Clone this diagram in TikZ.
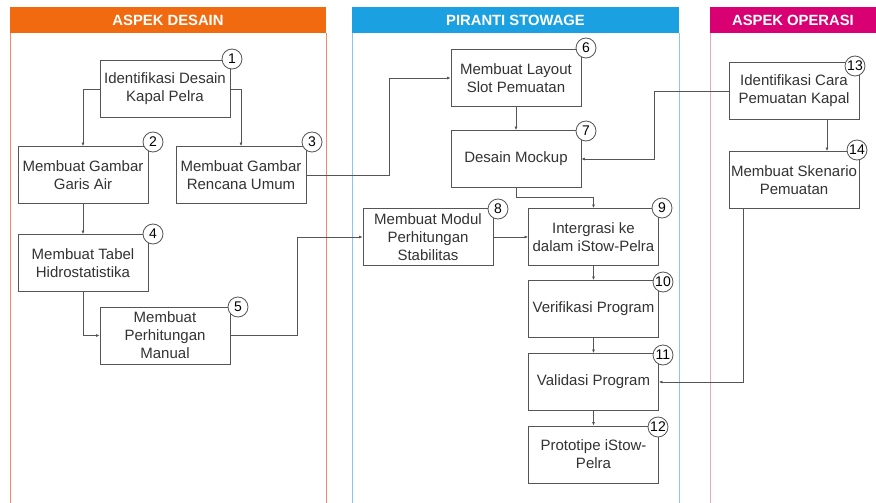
\documentclass[tikz,border=0pt]{standalone}
\usepackage{fontspec}
\setmainfont{Liberation Sans}
\usetikzlibrary{arrows.meta,calc}
\definecolor{cOr}{HTML}{F26A10}
\definecolor{cOrL}{HTML}{F28A6A}
\definecolor{cBl}{HTML}{1BA1E2}
\definecolor{cBlL}{HTML}{8CC4EA}
\definecolor{cMg}{HTML}{D80073}
\definecolor{cMgL}{HTML}{E8A8C0}
\definecolor{cLine}{HTML}{555555}
\definecolor{cTxt}{HTML}{333333}
\tikzset{
  stepbox/.style={draw=cLine, line width=0.8pt, fill=white, minimum width=130pt, minimum height=57pt, inner sep=2pt, align=center, text=cTxt, font=\fontsize{15}{18}\selectfont},
  numc/.style={circle, draw=cLine, line width=0.8pt, fill=white, minimum size=20pt, inner sep=0pt, text=black, font=\fontsize{14}{14}\selectfont},
  arr/.style={draw=cLine, line width=0.7pt, -{Latex[length=3.5pt,width=3pt]}},
  hdr/.style={text=white, font=\bfseries\fontsize{14.8}{15}\selectfont},
}
\begin{document}
\begin{tikzpicture}[x=1pt,y=-1pt]
\useasboundingbox (0,0) rectangle (876,503);
\fill[white] (0,0) rectangle (876,503);
% lanes
\draw[cOrL, line width=0.8pt] (10,33) -- (10,503) (326,33) -- (326,503);
\fill[cOr] (10,7) rectangle (326,33);
\node[hdr] (h1) at (168,20) {ASPEK DESAIN};
\draw[cBlL, line width=0.8pt] (352,33) -- (352,503) (679,33) -- (679,503);
\fill[cBl] (352,7) rectangle (679,33);
\node[hdr] (h2) at (515.5,20) {PIRANTI STOWAGE};
\draw[cMgL, line width=0.8pt] (710,33) -- (710,503);
\fill[cMg] (710,7) rectangle (876,33);
\node[hdr] (h3) at (793,20) {ASPEK OPERASI};
% boxes
\node[stepbox] (b1) at (165,89) {Identifikasi Desain\\Kapal Pelra};
\node[stepbox] (b2) at (83,175) {Membuat Gambar\\Garis Air};
\node[stepbox] (b3) at (241,175) {Membuat Gambar\\Rencana Umum};
\node[stepbox] (b4) at (83,263) {Membuat Tabel\\Hidrostatistika};
\node[stepbox] (b5) at (165,335.5) {Membuat\\Perhitungan\\Manual};
\node[stepbox] (b6) at (516,78) {Membuat Layout\\Slot Pemuatan};
\node[stepbox] (b7) at (516,159) {Desain Mockup};
\node[stepbox] (b8) at (428,237) {Membuat Modul\\Perhitungan\\Stabilitas};
\node[stepbox] (b9) at (593.5,237) {Intergrasi ke\\dalam iStow-Pelra};
\node[stepbox] (b10) at (593.5,309) {Verifikasi Program};
\node[stepbox] (b11) at (593.5,382) {Validasi Program};
\node[stepbox] (b12) at (593.5,454.5) {Prototipe iStow-\\Pelra};
\node[stepbox] (b13) at (794,91) {Identifikasi Cara\\Pemuatan Kapal};
\node[stepbox] (b14) at (794,180) {Membuat Skenario\\Pemuatan};
% number circles
\node[numc] (n1) at (232,59) {1};
\node[numc] (n2) at (153,142) {2};
\node[numc] (n3) at (312,142) {3};
\node[numc] (n4) at (153,234) {4};
\node[numc] (n5) at (238,307) {5};
\node[numc] (n6) at (586,48) {6};
\node[numc] (n7) at (586,131) {7};
\node[numc] (n8) at (498,209) {8};
\node[numc] (n9) at (662,208) {9};
\node[numc] (n10) at (663,282) {10};
\node[numc] (n11) at (663,355) {11};
\node[numc] (n12) at (658,427) {12};
\node[numc] (n13) at (855,66) {13};
\node[numc] (n14) at (857,150) {14};
% connectors
\draw[arr] (b1.west) -| (b2.north);
\draw[arr] (b1.east) -| (b3.north);
\draw[arr] (b2.south) -- (b4.north);
\draw[arr] (b4.south) |- (b5.west);
\draw[arr] (b5.east) -- ++(67,0) |- (b8.west);
\draw[arr] (b3.east) -- ++(83,0) |- (b6.west);
\draw[arr] (b6.south) -- (b7.north);
\draw[arr] (b13.west) -- ++(-74,0) |- (b7.east);
\draw[arr] (b7.south) -- ++(0,9) -| (b9.north);
\draw[arr] (b8.east) -- (b9.west);
\draw[arr] (b9.south) -- (b10.north);
\draw[arr] (b10.south) -- (b11.north);
\draw[arr] (b11.south) -- (b12.north);
\draw[arr] ([xshift=33pt]b13.south) -- ([xshift=33pt]b14.north);
\draw[arr] ([xshift=-51pt]b14.south) |- (b11.east);
\end{tikzpicture}
\end{document}
